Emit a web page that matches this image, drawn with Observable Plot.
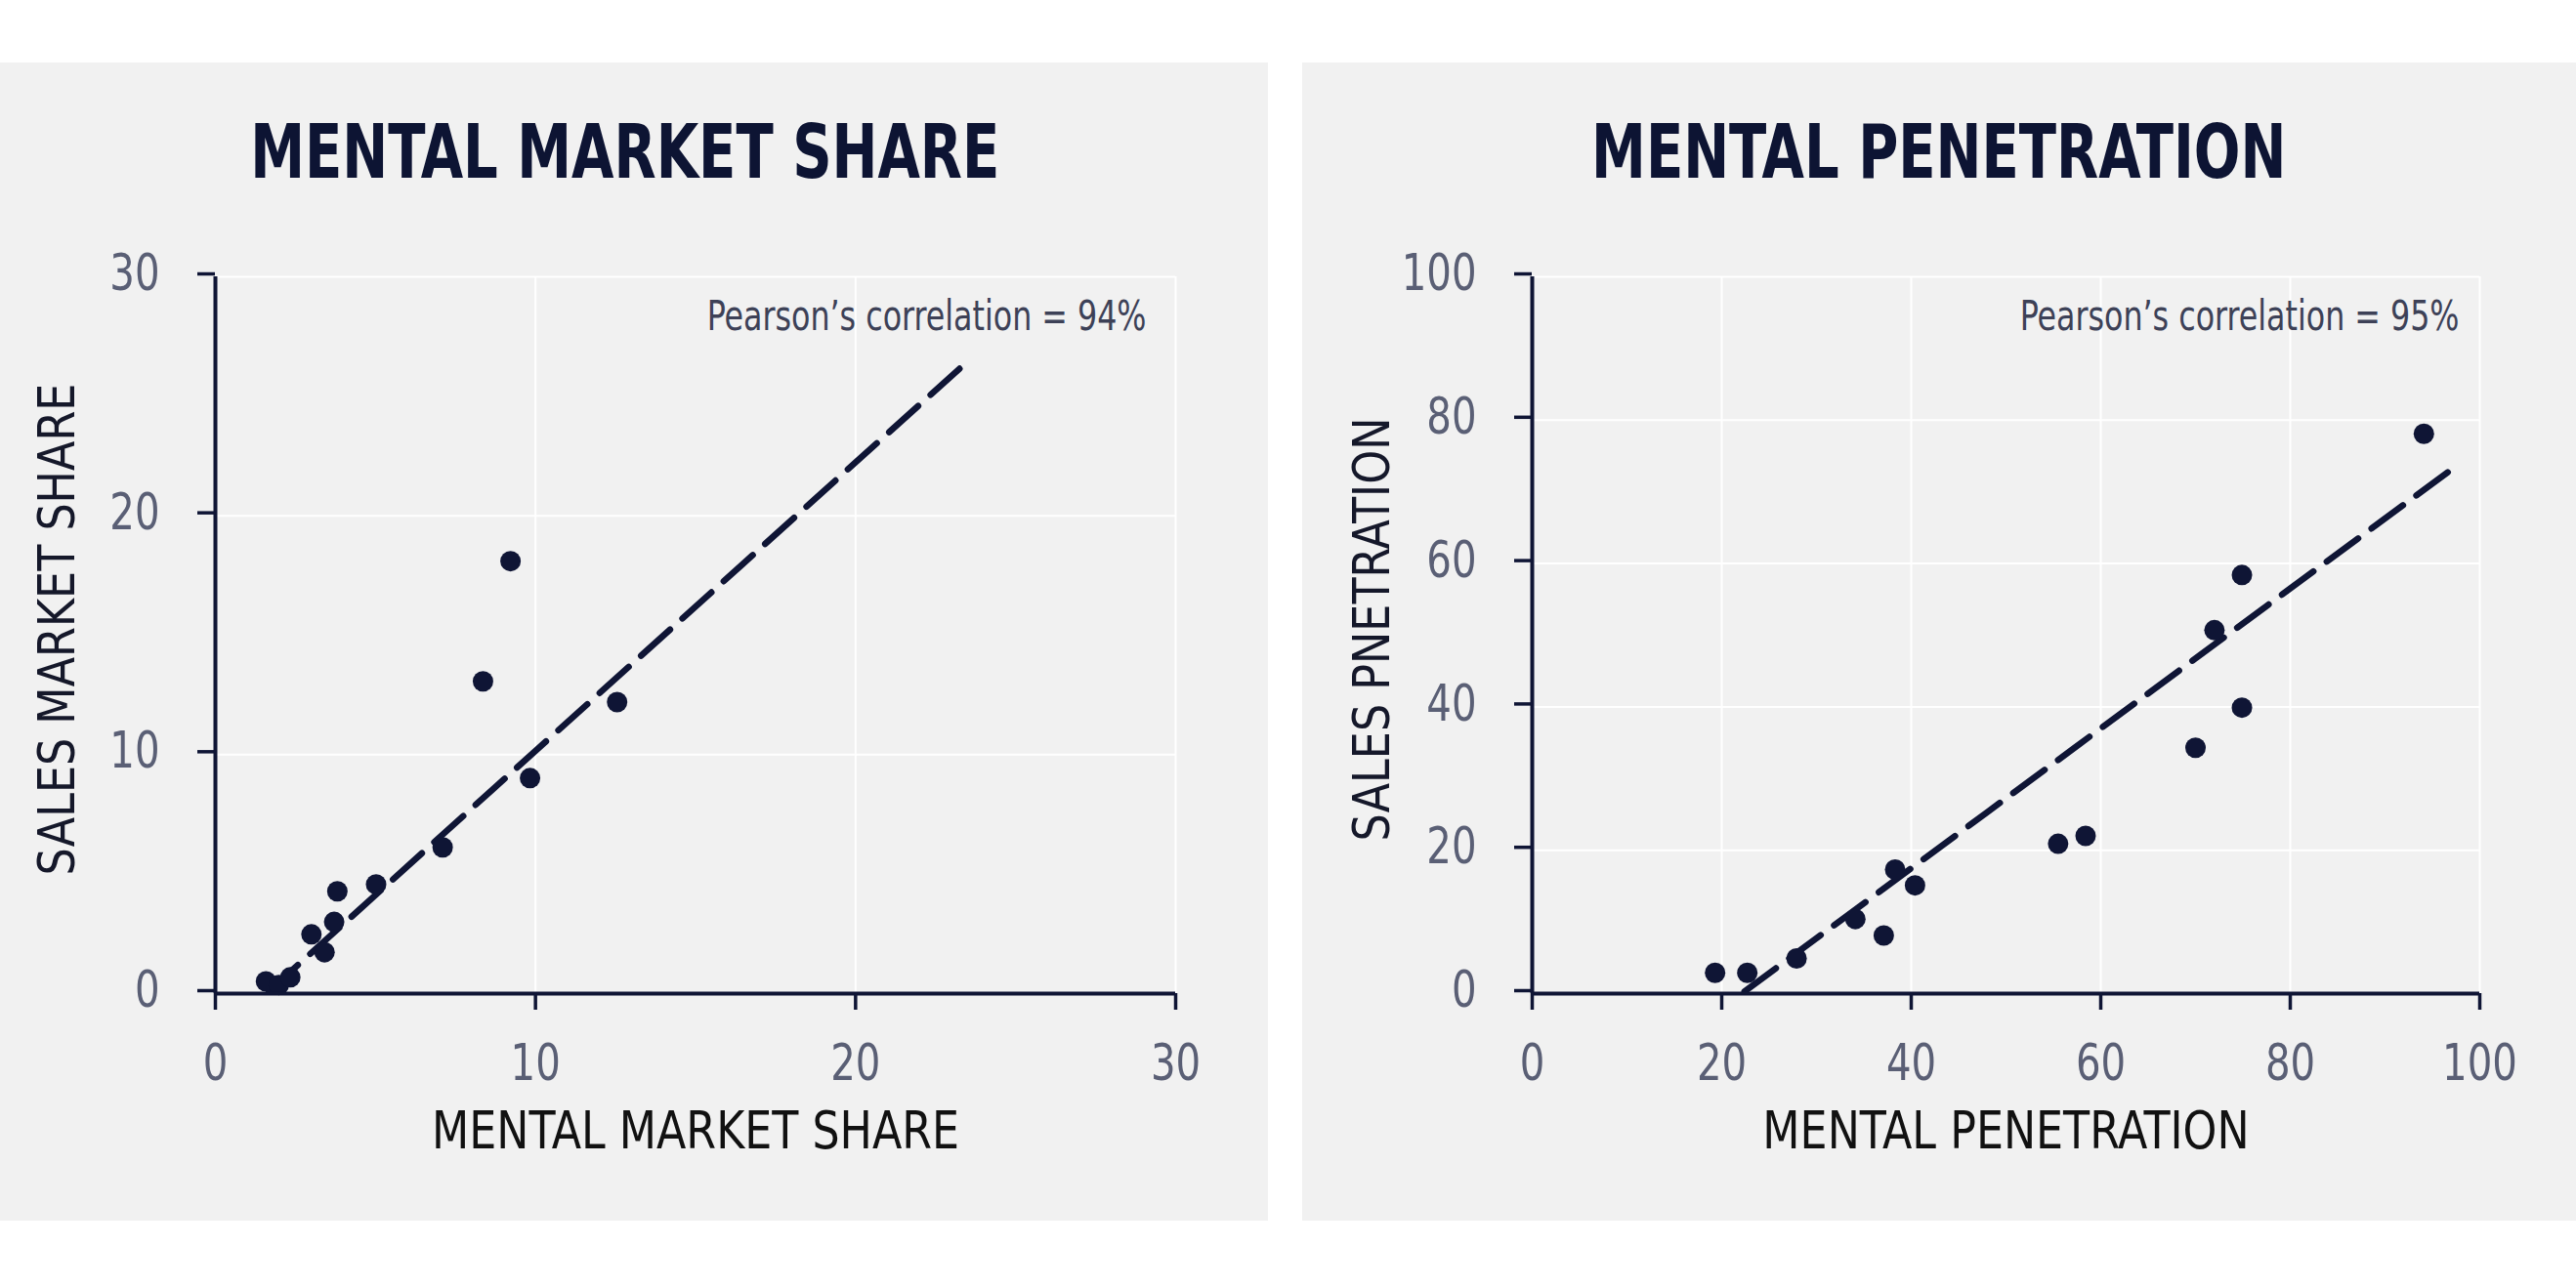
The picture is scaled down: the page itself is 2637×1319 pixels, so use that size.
<!DOCTYPE html>
<html><head><meta charset="utf-8">
<script src="https://cdn.jsdelivr.net/npm/d3@7"></script>
<script src="https://cdn.jsdelivr.net/npm/@observablehq/plot@0.6"></script>
<style>
html,body{margin:0;padding:0;background:#fff;overflow:hidden;width:2637px;height:1319px;}
.panel{position:absolute;top:64px;height:1186px;background:#f1f1f1;}
.title{height:160px;box-sizing:border-box;padding-top:54px;line-height:76px;font-family:"DejaVu Sans Condensed","DejaVu Sans",sans-serif;font-weight:bold;font-size:76px;color:#0d1433;text-align:center;margin:0;white-space:nowrap;}
.title span{display:inline-block;transform:scaleX(0.82);transform-origin:center;}
svg{display:block}
</style></head><body>
<div id="left" class="panel" style="left:0;width:1298px"></div>
<div id="right" class="panel" style="left:1333px;width:1304px"></div>
<script>
// Left chart: mental market share vs sales market share
const titles = ["MENTAL MARKET SHARE", "MENTAL PENETRATION"];
const mmsX = [1.58, 1.98, 2.34, 3.0, 3.41, 3.71, 3.81, 5.02, 7.1, 8.36, 9.22, 9.83, 12.55];
const mmsY = [0.51, 0.36, 0.68, 2.48, 1.73, 3.0, 4.28, 4.57, 6.12, 13.07, 18.1, 9.02, 12.2];
const trendMmsX = [1.67, 23.45];
const trendMmsY = [0.1, 26.4];
const mmsTicks = [0, 10, 20, 30];
// Right chart: mental penetration vs sales penetration
const mpX = [19.3, 22.7, 27.9, 34.1, 37.1, 38.3, 40.4, 55.5, 58.4, 70.0, 72.0, 74.9, 74.9, 94.1];
const mpY = [2.9, 2.9, 4.9, 10.4, 8.1, 17.3, 15.1, 20.9, 22.0, 34.3, 50.7, 39.9, 58.4, 78.1];
const trendMpX = [22.4, 97.3];
const trendMpY = [0.3, 73.4];
const mpTicks = [0, 20, 40, 60, 80, 100];
const xLabels = ["MENTAL MARKET SHARE", "MENTAL PENETRATION"];
const yLabels = ["SALES MARKET SHARE", "SALES PNETRATION"];
const pearsons = ["Pearson\u2019s correlation = 94%", "Pearson\u2019s correlation = 95%"];

const navy = "#0f1535";
const font = "'DejaVu Sans Condensed','DejaVu Sans',sans-serif";

function squeeze(node, f) {
  const len = node.getComputedTextLength();
  if (len > 0) {
    node.setAttribute("textLength", (len * f).toFixed(2));
    node.setAttribute("lengthAdjust", "spacingAndGlyphs");
  }
}

function draw(el, o) {
  const t = document.createElement("div");
  t.className = "title";
  t.style.paddingRight = (o.titlePadRight || 0) + "px";
  const s = document.createElement("span");
  s.textContent = o.title;
  t.appendChild(s);
  el.appendChild(t);
  const pts = o.xs.map((x, i) => ({x, y: o.ys[i]}));
  const tr = o.tx.map((x, i) => ({x, y: o.ty[i]}));
  const chart = Plot.plot({
    width: o.width,
    height: 1026,
    marginLeft: o.marginLeft,
    marginRight: o.marginRight,
    marginTop: 59,
    marginBottom: 233,
    style: {background: "transparent", fontFamily: font},
    x: {domain: [o.ticks[0], o.ticks[o.ticks.length - 1]]},
    y: {domain: [o.ticks[0], o.ticks[o.ticks.length - 1]]},
    marks: [
      Plot.gridX(o.ticks, {stroke: "#ffffff", strokeOpacity: 1, strokeWidth: 2}),
      Plot.gridY(o.ticks, {stroke: "#ffffff", strokeOpacity: 1, strokeWidth: 2}),
      Plot.line(tr, {x: "x", y: "y", stroke: navy, strokeWidth: 6.5, strokeDasharray: "40,17"}),
      Plot.dot(pts, {x: "x", y: "y", r: 10.5, fill: navy, stroke: null}),
      Plot.ruleX([o.ticks[0]], {stroke: navy, strokeWidth: 4}),
      Plot.ruleY([o.ticks[0]], {stroke: navy, strokeWidth: 4}),
      Plot.axisX(o.ticks, {tickSize: 17, tickPadding: 35, stroke: navy, strokeWidth: 3.5, fill: "#5a5f75", fontSize: 52, label: null}),
      Plot.axisY(o.ticks, {tickSize: 18, tickPadding: 39, stroke: navy, strokeWidth: 3.5, fill: "#5a5f75", fontSize: 52, dy: -3, label: null}),
      Plot.text([o.xLabel], {frameAnchor: "bottom", lineAnchor: "middle", dy: 142, fontSize: 53, fill: "#111111"}),
      Plot.text([o.yLabel], {frameAnchor: "left", lineAnchor: "middle", textAnchor: "middle", rotate: -90, dx: o.yLabelDx, dy: -6, fontSize: 52, fill: "#15182a"}),
      Plot.text([o.pearson], {frameAnchor: "top-right", textAnchor: "end", lineAnchor: "middle", dx: o.pDx, dy: 41, fontSize: 43, fill: "#3d4157"})
    ]
  });
  el.appendChild(chart);
  // condense text widths toward the narrow face of the original
  chart.querySelectorAll("text").forEach(n => {
    const txt = n.textContent;
    if (txt === o.pearson) squeeze(n, 0.82);
    else if (txt === o.xLabel) squeeze(n, 0.93);
    else if (txt === o.yLabel) squeeze(n, 0.95);
    else if (/^\d+$/.test(txt)) squeeze(n, 0.86);
  });
}

draw(document.getElementById("left"), {
  title: titles[0], xs: mmsX, ys: mmsY, tx: trendMmsX, ty: trendMmsY, ticks: mmsTicks,
  xLabel: xLabels[0], yLabel: yLabels[0], pearson: pearsons[0],
  width: 1298, marginLeft: 220, marginRight: 95, yLabelDx: -161, pDx: -30, titlePadRight: 18
});
draw(document.getElementById("right"), {
  title: titles[1], xs: mpX, ys: mpY, tx: trendMpX, ty: trendMpY, ticks: mpTicks,
  xLabel: xLabels[1], yLabel: yLabels[1], pearson: pearsons[1],
  width: 1304, marginLeft: 235, marginRight: 99, yLabelDx: -163, pDx: -21, titlePadRight: 0
});
</script>
</body></html>
